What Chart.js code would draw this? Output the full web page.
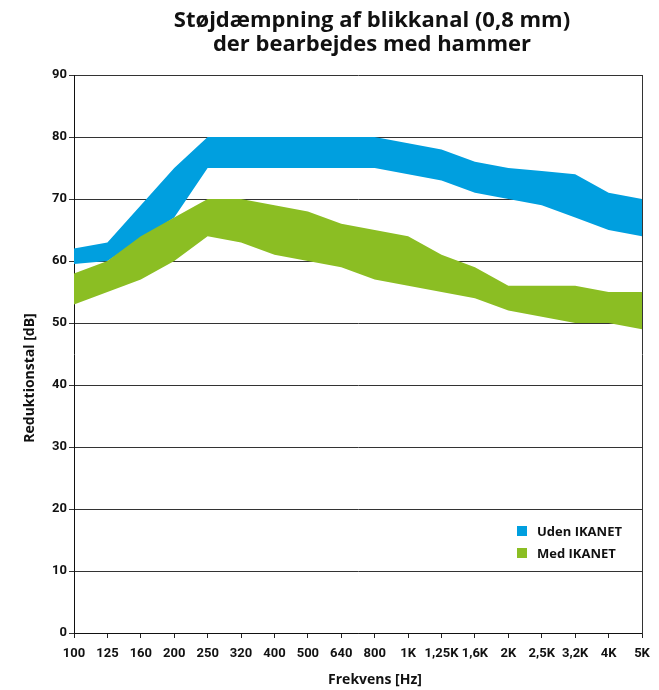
<!DOCTYPE html>
<html>
<head>
<meta charset="utf-8">
<script src="https://cdn.jsdelivr.net/npm/chart.js@4"></script>
<style>
  body { margin: 0; background: #fff; }
</style>
</head>
<body>
<canvas id="chart" width="659" height="690"></canvas>
<script>
// frekvenser
const labels = ['100', '125', '160', '200', '250', '320', '400', '500', '640', '800',
  '1K', '1,25K', '1,6K', '2K', '2,5K', '3,2K', '4K', '5K'];

// Uden IKANET (bånd: øvre / nedre)
const udenMax = [62, 63, 69, 75, 80, 80, 80, 80, 80, 80, 79, 78, 76, 75, 74.5, 74, 71, 70];
const udenMin = [59.5, 60, 63.5, 67, 75, 75, 75, 75, 75, 75, 74, 73, 71, 70, 69, 67, 65, 64];

// Med IKANET
const medMax = [58, 60, 64, 67, 70, 70, 69, 68, 66, 65, 64, 61, 59, 56, 56, 56, 55, 55];
const medMin = [53, 55, 57, 60, 64, 63, 61, 60, 59, 57, 56, 55, 54, 52, 51, 50, 50, 49];

const yTicks = [0, 10, 20, 30, 40, 50, 60, 70, 80, 90];

const BLUE = '#009fdf';
const GREEN = '#8bbe23';
const FONT = 'Roboto';
const TITLE_FONT = '"Open Sans"';

// legende + aksetitler tegnet selv (de sidder lidt forskudt i originalen)
const extras = {
  id: 'extras',
  afterLayout(chart) {
    chart.titleBlock.left += 14;
    chart.titleBlock.right += 14;
  },
  afterDraw(chart) {
    const ctx = chart.ctx;
    const area = chart.chartArea;
    ctx.save();
    ctx.fillStyle = '#111';
    ctx.font = 'bold 14px ' + TITLE_FONT;
    ctx.textAlign = 'center';
    ctx.textBaseline = 'middle';
    ctx.fillText('Frekvens [Hz]', (area.left + area.right) / 2 + 17, 680);

    ctx.save();
    ctx.translate(30, (area.top + area.bottom) / 2 + 24);
    ctx.rotate(-Math.PI / 2);
    ctx.fillText('Reduktionstal [dB]', 0, 0);
    ctx.restore();

    const items = chart.data.datasets.filter(d => d.legendText).sort((a, b) => a.legendOrder - b.legendOrder);
    ctx.font = 'bold 13px ' + TITLE_FONT;
    ctx.textAlign = 'left';
    items.forEach((d, i) => {
      const y = 531 + i * 22;
      ctx.fillStyle = d.backgroundColor;
      ctx.fillRect(517, y - 5, 10, 10);
      ctx.fillStyle = '#111';
      ctx.fillText(d.legendText, 537, y + 1);
    });
    ctx.restore();
  }
};

const ctx = document.getElementById('chart').getContext('2d');

new Chart(ctx, {
  type: 'line',
  data: {
    labels: labels,
    datasets: [
      {
        data: medMax, fill: '+1', backgroundColor: GREEN, borderWidth: 0,
        pointRadius: 0, legendText: 'Med IKANET', legendOrder: 1
      },
      { data: medMin, fill: false, borderWidth: 0, pointRadius: 0 },
      {
        data: udenMax, fill: '+1', backgroundColor: BLUE, borderWidth: 0,
        pointRadius: 0, legendText: 'Uden IKANET', legendOrder: 0
      },
      { data: udenMin, fill: false, borderWidth: 0, pointRadius: 0 }
    ]
  },
  options: {
    responsive: false,
    animation: false,
    devicePixelRatio: 1,
    layout: { padding: { left: 0, right: 16, top: 0, bottom: 0 } },
    plugins: {
      legend: { display: false },
      tooltip: { enabled: false },
      title: {
        display: true,
        text: ['Støjdæmpning af blikkanal (0,8 mm)', 'der bearbejdes med hammer'],
        color: '#111',
        font: { family: TITLE_FONT, size: 22, weight: 'bold', lineHeight: '24px' },
        padding: { top: 9, bottom: 18 },
        fullSize: false
      }
    },
    scales: {
      x: {
        offset: false,
        grid: { drawOnChartArea: false, drawTicks: true, tickLength: 5, color: '#222' },
        border: { display: true, color: '#111', width: 1 },
        ticks: {
          autoSkip: false, maxRotation: 0, minRotation: 0, padding: 8,
          color: '#111', font: { family: FONT, size: 13, weight: 'bold' }
        },
        afterFit: s => { s.height = 57; }
      },
      y: {
        min: 0, max: 90,
        afterBuildTicks: s => { s.ticks = yTicks.map(v => ({ value: v })); },
        grid: { color: '#333', lineWidth: 1, tickLength: 5 },
        border: { display: true, color: '#111', width: 1 },
        ticks: {
          padding: 2, color: '#111',
          font: { family: FONT, size: 13, weight: 'bold' }
        },
        afterFit: s => { s.width = 74; }
      },
      yRight: {
        position: 'right', min: 0, max: 90,
        grid: { drawOnChartArea: false, drawTicks: false },
        border: { display: true, color: '#333', width: 1 },
        ticks: { display: false },
        afterFit: s => { s.width = 1; }
      }
    }
  },
  plugins: [extras]
});
</script>
</body>
</html>
